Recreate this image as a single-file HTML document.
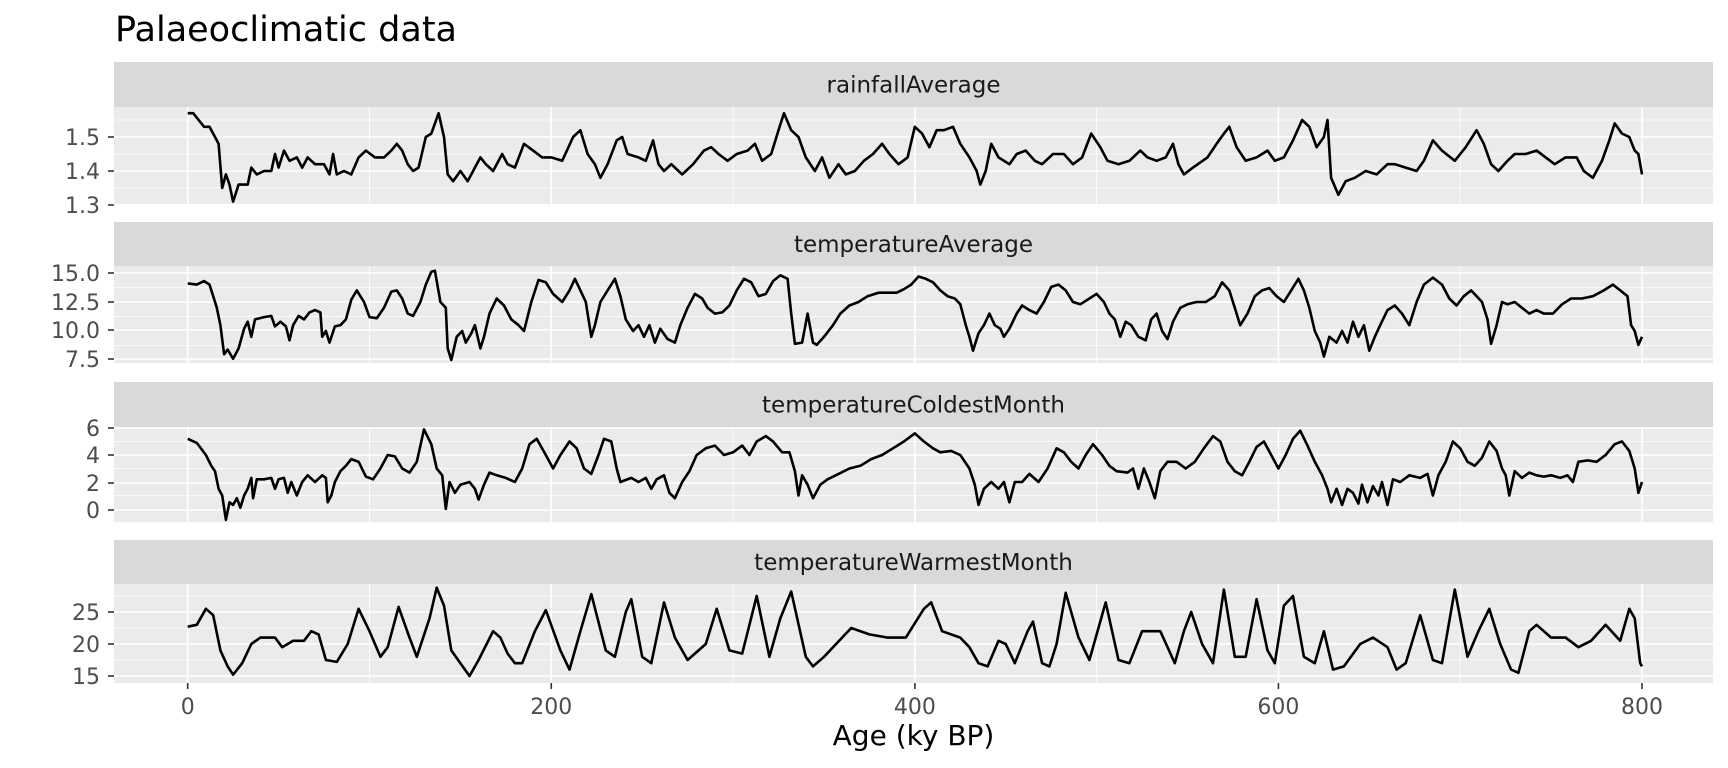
<!DOCTYPE html>
<html><head><meta charset="utf-8"><style>
html,body{margin:0;padding:0;background:#fff;width:1728px;height:768px;overflow:hidden}
svg text{font-family:"DejaVu Sans","Liberation Sans",sans-serif}
</style></head><body>
<svg id="s" width="1728" height="768" xmlns="http://www.w3.org/2000/svg"></svg>
<script>
const L=114,R=1713,X0=187.7,X1=1642;
const xs=k=>X0+(X1-X0)*k/800;
const panels=[
{name:"rainfallAverage",st:62,top:107,bot:204,ticks:[[1.5,137],[1.4,171],[1.3,205]],lab:["1.5","1.4","1.3"],
d:[0,1.57,3,1.57,6,1.55,9,1.53,12,1.53,15,1.5,17,1.48,19,1.35,21,1.39,23,1.36,25,1.31,28,1.36,33,1.36,35,1.41,38,1.39,42,1.40,46,1.40,48,1.45,50,1.41,53,1.46,56,1.43,60,1.44,63,1.41,66,1.44,70,1.42,75,1.42,78,1.39,80,1.45,82,1.39,86,1.40,90,1.39,94,1.44,98,1.46,103,1.44,108,1.44,112,1.46,115,1.48,118,1.46,121,1.42,124,1.40,127,1.41,131,1.50,134,1.51,138,1.57,141,1.50,143,1.39,146,1.37,150,1.40,154,1.37,158,1.41,161,1.44,164,1.42,168,1.40,173,1.45,176,1.42,180,1.41,185,1.48,190,1.46,195,1.44,200,1.44,206,1.43,212,1.50,216,1.52,220,1.45,224,1.42,227,1.38,231,1.42,236,1.49,239,1.50,242,1.45,248,1.44,252,1.43,256,1.49,259,1.42,262,1.40,266,1.42,272,1.39,278,1.42,284,1.46,288,1.47,292,1.45,297,1.43,302,1.45,308,1.46,312,1.48,316,1.43,321,1.45,325,1.52,328,1.57,332,1.52,336,1.50,340,1.44,345,1.40,349,1.44,353,1.38,358,1.42,362,1.39,367,1.40,372,1.43,377,1.45,382,1.48,386,1.45,391,1.42,396,1.44,400,1.53,404,1.51,408,1.47,412,1.52,416,1.52,421,1.53,425,1.48,430,1.44,434,1.40,436,1.36,439,1.40,442,1.48,446,1.44,452,1.42,456,1.45,461,1.46,466,1.43,470,1.42,476,1.45,482,1.45,487,1.42,492,1.44,497,1.51,502,1.47,506,1.43,512,1.42,518,1.43,524,1.46,528,1.44,533,1.43,538,1.44,542,1.48,545,1.42,548,1.39,553,1.41,561,1.44,566,1.48,570,1.51,573,1.53,577,1.47,582,1.43,588,1.44,594,1.46,598,1.43,603,1.44,608,1.49,613,1.55,617,1.53,621,1.47,625,1.50,627,1.55,629,1.38,633,1.33,637,1.37,642,1.38,648,1.40,654,1.39,660,1.42,664,1.42,670,1.41,676,1.40,680,1.43,685,1.49,690,1.46,697,1.43,703,1.47,709,1.52,713,1.48,717,1.42,721,1.40,726,1.43,730,1.45,736,1.45,742,1.46,747,1.44,752,1.42,758,1.44,764,1.44,768,1.40,773,1.38,778,1.43,782,1.49,785,1.54,789,1.51,793,1.50,796,1.46,798,1.45,800,1.39]},
{name:"temperatureAverage",st:222,top:266,bot:363,ticks:[[15,273],[12.5,302],[10,330],[7.5,359]],lab:["15.0","12.5","10.0","7.5"],
d:[0,14.1,5,14.0,9,14.3,12,14.0,14,13.0,16,12.0,18,10.5,20,8.0,22,8.4,25,7.6,28,8.5,31,10.2,33,10.8,35,9.5,37,11.0,42,11.2,46,11.3,48,10.4,51,10.8,54,10.4,56,9.2,58,10.5,61,11.3,64,11.0,67,11.6,70,11.8,73,11.6,74,9.5,76,10.0,78,9.0,81,10.4,84,10.5,87,11.0,90,12.7,93,13.5,97,12.5,100,11.2,104,11.1,108,12.0,112,13.4,115,13.5,118,12.8,121,11.5,124,11.3,128,12.5,131,14.0,134,15.1,136,15.2,139,12.5,142,12.0,143,8.5,145,7.5,148,9.5,151,10.0,153,9.0,156,9.8,158,10.5,161,8.5,163,9.5,166,11.5,170,12.8,174,12.2,178,11.0,182,10.5,185,10.0,189,12.5,193,14.4,197,14.2,201,13.2,206,12.5,210,13.5,213,14.5,216,13.5,219,12.5,222,9.5,224,10.5,227,12.5,231,13.5,235,14.5,238,13.0,241,11.0,245,10.0,248,10.5,251,9.5,254,10.5,257,9.0,260,10.2,264,9.3,268,9.0,271,10.5,275,12.0,279,13.2,283,12.8,286,12.0,290,11.5,294,11.6,298,12.2,302,13.5,306,14.5,310,14.2,314,13.0,318,13.2,322,14.3,326,14.8,330,14.5,332,11.5,334,8.9,338,9.0,341,11.5,344,9.0,346,8.8,350,9.5,355,10.5,359,11.5,364,12.2,369,12.5,374,13.0,380,13.3,385,13.3,390,13.3,394,13.6,398,14.0,402,14.7,406,14.5,410,14.2,414,13.5,418,13.0,422,12.8,425,12.3,428,10.5,430,9.5,432,8.3,435,9.8,438,10.5,441,11.5,444,10.5,447,10.2,449,9.5,452,10.2,456,11.5,459,12.2,463,11.8,467,11.5,471,12.5,475,13.8,479,14.0,483,13.5,487,12.5,491,12.3,496,12.8,500,13.2,504,12.5,507,11.5,510,11.0,513,9.5,516,10.8,519,10.5,523,9.5,527,9.2,530,11.0,533,11.5,536,10.0,539,9.3,542,10.8,546,12.0,550,12.3,555,12.5,560,12.5,565,13.0,569,14.2,573,13.5,576,12.0,579,10.5,583,11.5,587,13.0,591,13.5,595,13.7,599,13.0,603,12.5,607,13.5,611,14.5,614,13.5,617,12.0,620,10.0,623,9.0,625,7.8,628,9.5,632,9.0,635,10.0,638,9.0,641,10.8,644,9.5,647,10.5,650,8.3,653,9.5,656,10.5,660,11.8,664,12.2,668,11.5,672,10.5,676,12.5,680,14.0,685,14.6,690,14.0,694,12.8,698,12.2,702,13.0,706,13.5,709,13.0,712,12.5,715,11.0,717,8.9,720,10.5,723,12.5,726,12.3,730,12.5,734,12.0,738,11.5,742,11.8,746,11.5,751,11.5,756,12.3,761,12.8,767,12.8,773,13.0,779,13.5,784,14.0,788,13.5,792,13.0,794,10.5,796,10.0,798,8.8,800,9.5]},
{name:"temperatureColdestMonth",st:382,top:427,bot:523,ticks:[[6,428],[4,455],[2,483],[0,510]],lab:["6","4","2","0"],
d:[0,5.2,5,4.9,10,4.0,13,3.2,15,2.8,17,1.5,19,1.0,21,-0.8,23,0.5,25,0.3,27,0.8,29,0.1,31,1.0,33,1.5,35,2.3,36,0.8,38,2.2,42,2.2,46,2.3,48,1.5,50,2.2,53,2.3,55,1.2,57,2.0,60,1.0,63,2.0,66,2.5,70,2.0,74,2.5,76,2.3,77,0.5,79,1.0,81,2.0,84,2.8,87,3.2,90,3.7,94,3.5,98,2.4,102,2.2,106,3.0,110,4.0,114,3.9,118,3.0,122,2.7,126,3.5,130,5.9,134,4.8,137,3.0,140,2.5,142,0.0,144,2.0,147,1.2,150,1.8,155,2.0,158,1.5,160,0.7,163,1.8,166,2.7,170,2.5,175,2.3,180,2.0,184,3.0,188,4.8,192,5.2,197,4.0,201,3.0,205,4.0,210,5.0,214,4.5,218,3.0,222,2.6,226,4.0,229,5.2,233,5.0,236,3.0,238,2.0,244,2.3,248,2.0,252,2.3,255,1.5,258,2.2,262,2.5,265,1.2,268,0.8,272,2.0,276,2.8,280,4.0,285,4.5,290,4.7,295,4.0,300,4.2,305,4.7,309,4.0,313,5.0,318,5.4,322,5.0,327,4.2,331,4.2,334,2.8,336,1.0,338,2.5,341,1.8,344,0.8,348,1.8,352,2.2,358,2.6,364,3.0,370,3.2,376,3.7,382,4.0,388,4.5,394,5.0,400,5.6,405,5.0,410,4.5,414,4.2,420,4.3,425,4.0,430,3.0,433,1.8,435,0.3,438,1.5,442,2.0,446,1.5,449,2.0,452,0.5,455,2.0,459,2.0,463,2.6,468,2.0,473,3.0,478,4.5,482,4.2,486,3.5,490,3.0,494,4.0,498,4.8,503,4.0,507,3.2,511,2.8,517,2.7,520,3.0,523,1.5,526,3.0,529,2.0,532,0.8,535,2.8,539,3.5,544,3.5,549,3.0,554,3.5,559,4.5,564,5.4,568,5.0,572,3.5,576,2.8,580,2.5,584,3.5,588,4.6,592,5.0,596,4.0,600,3.0,604,4.0,608,5.2,612,5.8,616,4.7,620,3.5,624,2.5,627,1.5,629,0.5,632,1.5,635,0.3,638,1.5,641,1.2,644,0.4,646,1.8,649,0.5,652,1.7,655,1.0,657,2.0,660,0.3,663,2.2,667,2.0,672,2.5,678,2.3,682,2.6,685,1.0,688,2.5,692,3.5,696,5.0,700,4.5,704,3.5,708,3.2,712,3.8,716,5.0,720,4.3,723,3.0,725,2.5,727,1.0,730,2.8,734,2.3,738,2.7,742,2.5,746,2.4,750,2.5,755,2.3,759,2.5,762,2.0,765,3.5,770,3.6,775,3.5,780,4.0,785,4.8,789,5.0,793,4.3,796,3.0,798,1.2,800,2.0]},
{name:"temperatureWarmestMonth",st:540,top:584,bot:683,ticks:[[25,612],[20,644],[15,676]],lab:["25","20","15"],
d:[0,22.7,5,23,10,25.5,14,24.5,18,19,22,16.5,25,15.2,30,17,35,20,40,21,48,21,52,19.5,58,20.5,64,20.5,68,22,72,21.5,76,17.5,82,17.2,88,20,94,25.5,100,22,106,18,110,19.5,116,25.8,122,21,126,18,133,24,137,28.8,141,26,145,19,150,17,155,15,160,17.5,168,22,172,21,176,18.5,180,17,184,17,191,22,197,25.3,205,19,210,16,216,22,222,27.8,230,19,235,18,241,25,244,27,250,18,255,17,262,26.5,268,21,275,17.5,285,20,291,25.5,298,19,305,18.5,313,27.5,320,18,326,24,332,28.2,340,18,344,16.5,350,18,360,21,365,22.5,375,21.5,385,21,395,21,405,25.5,409,26.5,415,22,425,21,430,19.5,435,17,440,16.5,446,20.5,450,20,455,17,462,22,465,23.5,470,17,474,16.5,478,20,483,28,490,21,496,17.5,505,26.5,512,17.5,518,17,525,22,535,22,543,17,548,22,552,25,558,20,564,17,570,28.5,576,18,582,18,588,27,594,19,598,17,603,26,608,27.5,614,18,620,17,625,22,630,16,636,16.5,645,20,652,21,660,19.5,665,16,670,17,678,24.5,685,17.5,690,17,697,28.5,704,18,710,22,716,25.5,722,20,728,16,732,15.5,738,22,742,23,750,21,758,21,765,19.5,772,20.5,780,23,788,20.5,793,25.5,796,24,799,17,800,16.5]}
];
let h='<text x="115" y="41" font-size="35" fill="#000">Palaeoclimatic data</text>';
for(const p of panels){
  h+=`<rect x="${L}" y="${p.st}" width="${R-L}" height="${p.top-p.st}" fill="#d9d9d9"/>`;
  h+=`<text x="${(L+R)/2}" y="${(p.st+p.top)/2+8}" font-size="23" fill="#1a1a1a" text-anchor="middle">${p.name}</text>`;
  h+=`<rect x="${L}" y="${p.top}" width="${R-L}" height="${p.bot-p.top}" fill="#ebebeb"/>`;
  const t=p.ticks, v2y=(v)=>{const a=t[0],b=t[1];return a[1]+(v-a[0])*(b[1]-a[1])/(b[0]-a[0]);};
  const step=t[0][0]-t[1][0];
  for(let v=t[0][0]+step*1.5;v>t[t.length-1][0]-step*1.6;v-=step){const y=v2y(v);if(y>p.top&&y<p.bot)h+=`<line x1="${L}" x2="${R}" y1="${y}" y2="${y}" stroke="#fff" stroke-width="0.8"/>`;}
  for(let k=100;k<=900;k+=200){const x=xs(k);if(x<R)h+=`<line x1="${x}" x2="${x}" y1="${p.top}" y2="${p.bot}" stroke="#fff" stroke-width="0.8"/>`;}
  t.forEach((tt,i)=>{h+=`<line x1="${L}" x2="${R}" y1="${tt[1]}" y2="${tt[1]}" stroke="#fff" stroke-width="1.6"/>`;
    h+=`<line x1="${L-6}" x2="${L}" y1="${tt[1]}" y2="${tt[1]}" stroke="#333" stroke-width="1.6"/>`;
    h+=`<text x="${L-14}" y="${tt[1]+8}" font-size="22" fill="#4d4d4d" text-anchor="end">${p.lab[i]}</text>`;});
  for(let k=0;k<=800;k+=200){const x=xs(k);h+=`<line x1="${x}" x2="${x}" y1="${p.top}" y2="${p.bot}" stroke="#fff" stroke-width="1.6"/>`;}
  let pts=[];for(let i=0;i<p.d.length;i+=2)pts.push(xs(p.d[i]).toFixed(1)+','+v2y(p.d[i+1]).toFixed(1));
  h+=`<polyline points="${pts.join(' ')}" fill="none" stroke="#000" stroke-width="2.6" stroke-linejoin="round"/>`;
}
for(let k=0;k<=800;k+=200){const x=xs(k);h+=`<line x1="${x}" x2="${x}" y1="683" y2="689" stroke="#333" stroke-width="1.6"/><text x="${x}" y="714" font-size="22" fill="#4d4d4d" text-anchor="middle">${k}</text>`;}
h+=`<text x="${(L+R)/2}" y="745" font-size="28" fill="#000" text-anchor="middle">Age (ky BP)</text>`;
document.getElementById('s').innerHTML=h;
</script>
</body></html>
